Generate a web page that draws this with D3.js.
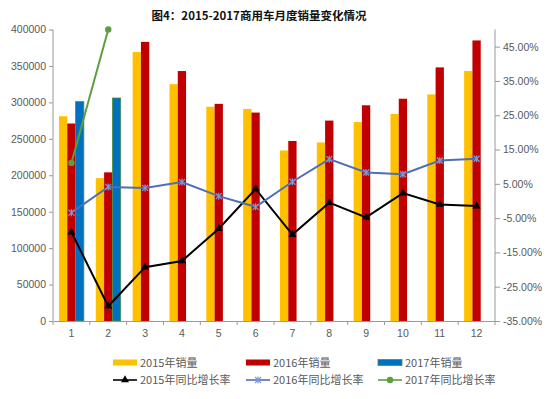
<!DOCTYPE html>
<html>
<head>
<meta charset="utf-8">
<script src="https://cdn.jsdelivr.net/npm/d3@7"></script>
<style>
  body { margin: 0; background: #fff; }
  text { font-family: "Liberation Sans", "Noto Sans CJK SC", sans-serif; }
</style>
</head>
<body>
<div id="chart"></div>
<script>
var months = ["1","2","3","4","5","6","7","8","9","10","11","12"];
var sales2015 = [281000,196000,369000,325000,294000,291000,234000,245000,273000,284000,311000,343000];
var sales2016 = [271000,204000,383000,343000,298000,286000,247000,275000,296000,305000,348000,385000];
var sales2017 = [301000,306000];
var growth2015 = [-9.1,-30.7,-19.3,-17.5,-8.1,3.5,-9.8,-0.5,-4.8,2.3,-1.0,-1.5];
var growth2016 = [-3.4,4.1,3.8,5.5,1.4,-1.7,5.6,12.2,8.3,7.8,11.8,12.3];
var growth2017 = [11.1,50.0];
var leftTicks = [0,50000,100000,150000,200000,250000,300000,350000,400000];
var rightTicks = [-35,-25,-15,-5,5,15,25,35,45];

var W = 554, H = 399;
var m = {left: 53, right: 495, top: 29.5, bottom: 321};

var svg = d3.select("#chart").append("svg")
  .attr("width", W).attr("height", H);

svg.append("text")
  .attr("x", 259).attr("y", 20)
  .attr("text-anchor", "middle")
  .style("font-family", "'Noto Sans CJK SC'")
  .style("font-weight", "bold")
  .style("font-size", "11.5px")
  .attr("fill", "#111")
  .text("图4：2015-2017商用车月度销量变化情况");

var x = d3.scaleBand().domain(months).range([m.left, m.right]).padding(0);
var xs = d3.scaleBand().domain(["2015","2016","2017"]).range([0, x.bandwidth()])
  .paddingInner(0).paddingOuter(0.72);
var y = d3.scaleLinear().domain([0, 400000]).range([m.bottom, m.top]);
var yr = d3.scaleLinear().domain([-35, 50]).range([m.bottom, m.top]);

var colors = {"2015": "#FFC000", "2016": "#C00000", "2017": "#0070C0"};
var series = [
  {key: "2015", vals: sales2015},
  {key: "2016", vals: sales2016},
  {key: "2017", vals: sales2017}
];

series.forEach(function(s){
  svg.append("g").selectAll("rect")
    .data(s.vals)
    .enter().append("rect")
    .attr("x", function(d,i){ return x(months[i]) + xs(s.key); })
    .attr("width", xs.bandwidth())
    .attr("y", function(d){ return y(d); })
    .attr("height", function(d){ return y(0) - y(d); })
    .attr("fill", colors[s.key])
    .attr("stroke", s.key == "2017" ? "#4E8F3A" : "none")
    .attr("stroke-width", 0.8);
});

// axes
var axisColor = "#9a9a9a", labelColor = "#595959";

var gl = svg.append("g").attr("transform", "translate(" + m.left + ",0)")
  .call(d3.axisLeft(y).tickValues(leftTicks).tickSize(4).tickPadding(3).tickFormat(d3.format("d")));
var gr = svg.append("g").attr("transform", "translate(" + m.right + ",0)")
  .call(d3.axisRight(yr).tickValues(rightTicks).tickSize(5).tickPadding(3)
    .tickFormat(function(d){ return d.toFixed(2) + "%"; }));
var gb = svg.append("g").attr("transform", "translate(0," + m.bottom + ")")
  .call(d3.axisBottom(x).tickSize(0).tickPadding(9));
// category boundary ticks
svg.append("g").selectAll("line")
  .data(months.concat(["end"]))
  .enter().append("line")
  .attr("x1", function(d,i){ return m.left + i * x.step(); })
  .attr("x2", function(d,i){ return m.left + i * x.step(); })
  .attr("y1", m.bottom).attr("y2", m.bottom + 4)
  .attr("stroke", axisColor);

[gl, gr, gb].forEach(function(g){
  g.selectAll(".domain").attr("stroke", axisColor);
  g.selectAll(".tick line").attr("stroke", axisColor);
  g.selectAll("text").attr("fill", labelColor).style("font-size", "10.5px");
});
gl.select(".domain").attr("d", "M0," + m.top + "V" + m.bottom);
gr.select(".domain").attr("d", "M0," + m.top + "V" + m.bottom);

// lines
var line = d3.line()
  .x(function(d,i){ return x(months[i]) + x.bandwidth() / 2; })
  .y(function(d){ return yr(d); });

var lines = [
  {key: "2015", vals: growth2015, color: "#000000", marker: "tri"},
  {key: "2016", vals: growth2016, color: "#4F6EB8", marker: "x"},
  {key: "2017", vals: growth2017, color: "#5E9E3E", marker: "dot"}
];

function drawMarker(g, type, color, cx, cy){
  if (type == "tri") {
    g.append("path")
      .attr("d", d3.symbol().type(d3.symbolTriangle).size(28)())
      .attr("transform", "translate(" + cx + "," + cy + ")")
      .attr("fill", color);
  } else if (type == "x") {
    g.append("path")
      .attr("d", "M-3,-3L3,3M-3,3L3,-3M0,-3.5V3.5")
      .attr("transform", "translate(" + cx + "," + cy + ")")
      .attr("stroke", "#7C9BD6").attr("stroke-width", 1.2).attr("fill", "none");
  } else {
    g.append("circle").attr("cx", cx).attr("cy", cy).attr("r", 3.2).attr("fill", color);
  }
}

lines.forEach(function(s){
  var g = svg.append("g");
  g.append("path")
    .attr("d", line(s.vals))
    .attr("fill", "none")
    .attr("stroke", s.color)
    .attr("stroke-width", 2);
  s.vals.forEach(function(v,i){
    drawMarker(g, s.marker, s.color, x(months[i]) + x.bandwidth() / 2, yr(v));
  });
});

// legend
var legX = [113, 246, 378];
var leg = svg.append("g");
series.forEach(function(s,i){
  leg.append("rect")
    .attr("x", legX[i]).attr("y", 359.5)
    .attr("width", 24).attr("height", 6)
    .attr("fill", colors[s.key])
    .attr("stroke", s.key == "2017" ? "#4E8F3A" : "none")
    .attr("stroke-width", 0.8);
  leg.append("text")
    .attr("x", legX[i] + 27).attr("y", 366.5)
    .attr("fill", labelColor)
    .style("font-family", "'Noto Sans CJK SC'")
    .style("font-size", "11px")
    .text(s.key + "年销量");
});
lines.forEach(function(s,i){
  leg.append("line")
    .attr("x1", legX[i]).attr("x2", legX[i] + 24)
    .attr("y1", 380).attr("y2", 380)
    .attr("stroke", s.color).attr("stroke-width", 1.6);
  drawMarker(leg, s.marker, s.color, legX[i] + 12, 380);
  leg.append("text")
    .attr("x", legX[i] + 27).attr("y", 384)
    .attr("fill", labelColor)
    .style("font-family", "'Noto Sans CJK SC'")
    .style("font-size", "11px")
    .text(s.key + "年同比增长率");
});
</script>
</body>
</html>
